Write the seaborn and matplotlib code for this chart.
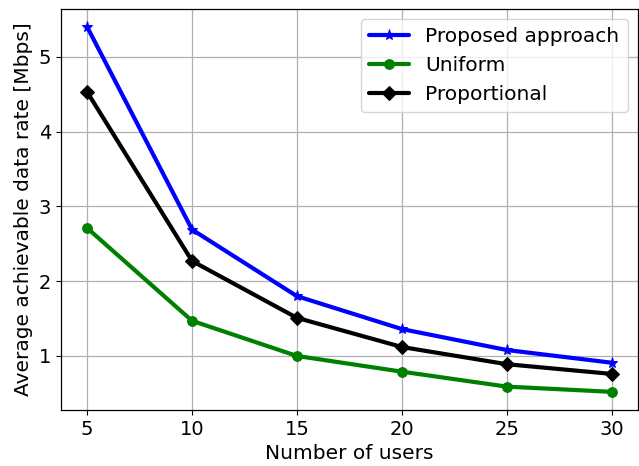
import matplotlib
matplotlib.use("Agg")
import matplotlib.pyplot as plt
import seaborn as sns
import pandas as pd

users = [5, 10, 15, 20, 25, 30]
proposed = [5.40, 2.69, 1.80, 1.36, 1.08, 0.91]
uniform = [2.71, 1.47, 1.00, 0.79, 0.59, 0.52]
proportional = [4.53, 2.27, 1.51, 1.12, 0.89, 0.76]

sns.set_style("whitegrid", rc={
    "text.color": "black", "axes.labelcolor": "black",
    "xtick.color": "black", "ytick.color": "black",
    "axes.edgecolor": "black", "grid.color": "#b0b0b0",
    "xtick.bottom": True, "ytick.left": True,
})
plt.rcParams['font.family'] = ['DejaVu Sans']

fig, ax = plt.subplots(figsize=(6.39, 4.66), dpi=100)

series = [("Proposed approach", proposed, "blue", "*", 8),
          ("Uniform", uniform, "green", "o", 7),
          ("Proportional", proportional, "black", "D", 7)]
for name, vals, col, mk, ms in series:
    df = pd.DataFrame({"x": users, "y": vals})
    sns.lineplot(data=df, x="x", y="y", ax=ax, color=col, marker=mk,
                 linewidth=3, markersize=ms, markeredgecolor=col, label=name)

ax.set_xlabel("Number of users", fontsize=14.5)
ax.set_ylabel("Average achievable data rate [Mbps]", fontsize=14.5)
ax.set_xticks(users)
ax.set_yticks([1, 2, 3, 4, 5])
ax.tick_params(labelsize=14, length=3.5, width=0.8, direction="out")
ax.grid(True, color="#b0b0b0", linewidth=0.9)
for s in ax.spines.values():
    s.set_color("black")
    s.set_linewidth(0.9)
ax.legend(fontsize=14.5, loc="upper right", framealpha=0.8)
fig.subplots_adjust(left=0.0955, right=0.998, top=0.981, bottom=0.12)
fig.savefig("out.png", dpi=100)
